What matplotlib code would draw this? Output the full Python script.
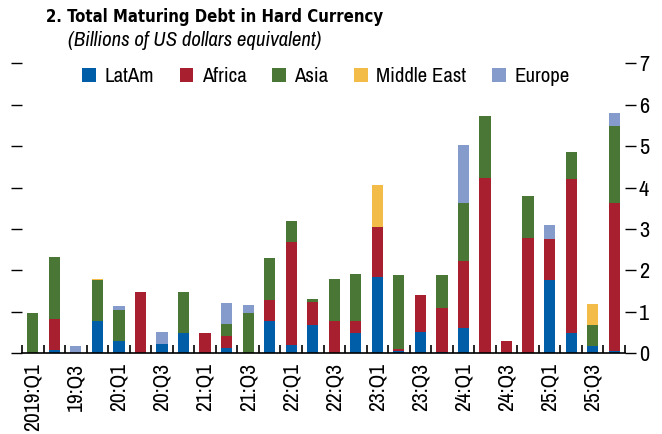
import matplotlib
matplotlib.use("Agg")
import matplotlib.pyplot as plt
from matplotlib import font_manager
from matplotlib.patches import Patch
import numpy as np

# quarters 2019:Q1 .. 2025:Q4
quarters = ["2019:Q1", "19:Q2", "19:Q3", "19:Q4", "20:Q1", "20:Q2", "20:Q3", "20:Q4",
            "21:Q1", "21:Q2", "21:Q3", "21:Q4", "22:Q1", "22:Q2", "22:Q3", "22:Q4",
            "23:Q1", "23:Q2", "23:Q3", "23:Q4", "24:Q1", "24:Q2", "24:Q3", "24:Q4",
            "25:Q1", "25:Q2", "25:Q3", "25:Q4"]

latam = [0.00, 0.08, 0.00, 0.78, 0.30, 0.00, 0.22, 0.49,
         0.00, 0.14, 0.00, 0.78, 0.20, 0.68, 0.00, 0.49,
         1.83, 0.05, 0.51, 0.03, 0.62, 0.00, 0.00, 0.00,
         1.78, 0.49, 0.18, 0.05]
africa = [0.00, 0.75, 0.00, 0.00, 0.00, 1.48, 0.00, 0.00,
          0.49, 0.28, 0.00, 0.51, 2.49, 0.56, 0.78, 0.29,
          1.22, 0.05, 0.90, 1.06, 1.61, 4.23, 0.30, 2.79,
          0.98, 3.72, 0.00, 3.58]
asia = [0.97, 1.50, 0.00, 0.99, 0.75, 0.00, 0.00, 0.99,
        0.00, 0.29, 0.97, 1.01, 0.51, 0.07, 1.02, 1.14,
        0.00, 1.79, 0.00, 0.80, 1.41, 1.50, 0.00, 1.01,
        0.00, 0.65, 0.50, 1.86]
mideast = [0.00, 0.00, 0.00, 0.03, 0.00, 0.00, 0.00, 0.00,
           0.00, 0.00, 0.00, 0.00, 0.00, 0.00, 0.00, 0.00,
           1.02, 0.00, 0.00, 0.00, 0.00, 0.00, 0.00, 0.00,
           0.00, 0.00, 0.51, 0.00]
europe = [0.00, 0.00, 0.18, 0.00, 0.09, 0.00, 0.29, 0.00,
          0.00, 0.51, 0.20, 0.00, 0.00, 0.00, 0.00, 0.00,
          0.00, 0.00, 0.00, 0.00, 1.39, 0.00, 0.00, 0.00,
          0.34, 0.00, 0.00, 0.31]

series = [("LatAm", latam, "#005ea8"),
          ("Africa", africa, "#a81f2f"),
          ("Asia", asia, "#4a7736"),
          ("Middle East", mideast, "#f3bb48"),
          ("Europe", europe, "#849bcb")]

# try to get a narrow/condensed face, the original uses a condensed grotesque
fonts = font_manager.fontManager.ttflist
names = sorted({f.name for f in fonts})
narrow = [n for n in names if "Narrow" in n] + [n for n in names if "Condensed" in n]
if narrow:
    fam = narrow[0]
else:
    fam = "DejaVu Sans"
    plt.rcParams["font.stretch"] = "condensed"
plt.rcParams["font.family"] = [fam, "DejaVu Sans"]


def is_bold(f):
    w = f.weight
    return (w >= 600) if isinstance(w, int) else (w in ("bold", "heavy", "black", "demibold", "semibold"))


# title needs a bold condensed face
title_kw = dict(family=[fam], fontweight="bold", fontsize=15)
if not any(f.name == fam and is_bold(f) for f in fonts):
    if any(f.name == "DejaVu Sans" and is_bold(f) and f.stretch == "condensed" for f in fonts):
        title_kw = dict(family=["DejaVu Sans"], fontweight="bold", fontstretch="condensed", fontsize=12)
    else:
        title_kw = dict(family=["Liberation Sans"], fontweight="bold", fontsize=12)

fig = plt.figure(figsize=(6.62, 4.34), dpi=100)
ax = fig.add_axes([22 / 662, 1 - 353.3 / 434, (625 - 22) / 662, (353.3 - 63.3) / 434])

x = np.arange(len(quarters))
bottom = np.zeros(len(quarters))
for name, vals, col in series:
    vals = np.array(vals)
    ax.bar(x, vals, 0.52, bottom=bottom, color=col, linewidth=0)
    bottom += vals

ax.set_xlim(-0.5, len(quarters) - 0.5)
ax.set_ylim(0, 7)

for s in ["top", "left", "right"]:
    ax.spines[s].set_visible(False)
ax.spines["bottom"].set_linewidth(1.2)

# x labels every other quarter, boundary ticks pointing up
ax.set_xticks(x[::2])
ax.set_xticklabels(quarters[::2], rotation=90, fontsize=15.5)
ax.tick_params(axis="x", length=0, pad=7)
ax.set_xticks(np.arange(-0.5, len(quarters)), minor=True)
ax.tick_params(axis="x", which="minor", direction="in", length=6, width=1.2)

# y: unlabeled ticks on the left, labeled on the right
ax.set_yticks(range(0, 8))
ax.tick_params(axis="y", left=True, right=True, labelleft=False, labelright=True,
               direction="out", length=8, width=1, labelsize=16, pad=2)

fig.text(46 / 662, 1 - 17 / 434, "2. Total Maturing Debt in Hard Currency",
         va="center", ha="left", **title_kw)
fig.text(68 / 662, 1 - 41 / 434, "(Billions of US dollars equivalent)",
         fontsize=15, style="italic", va="center", ha="left")

handles = [Patch(facecolor=c, edgecolor="none", label=n) for n, _, c in series]
fig.legend(handles=handles, loc="center left", bbox_to_anchor=(74 / 662, 1 - 77 / 434),
           ncol=5, frameon=False, fontsize=15, handlelength=0.65, handleheight=0.65,
           handletextpad=0.4, columnspacing=1.25, borderaxespad=0)

fig.savefig("out.png", dpi=100)
